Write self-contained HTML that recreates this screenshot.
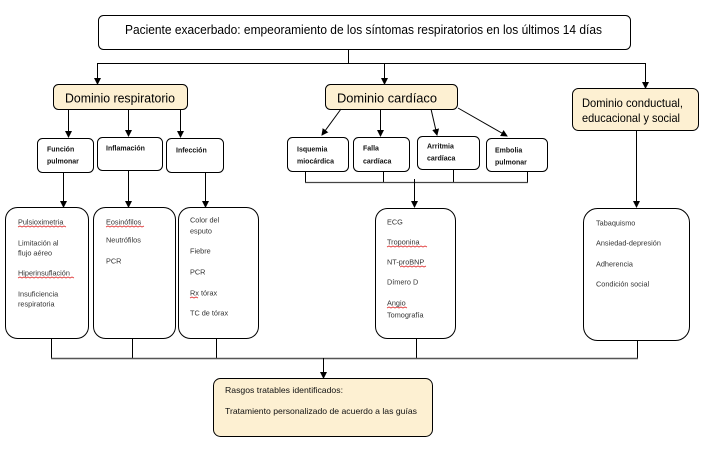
<!DOCTYPE html>
<html><head><meta charset="utf-8"><style>
html,body{margin:0;padding:0;background:#fff;}
svg{display:block;}
text{font-family:"Liberation Sans",sans-serif;}
</style></head><body>
<svg width="705" height="455" viewBox="0 0 705 455" xmlns="http://www.w3.org/2000/svg">
<defs>
<marker id="ar" markerWidth="8" markerHeight="8" refX="6" refY="3.5" orient="auto" markerUnits="userSpaceOnUse">
<path d="M0,0 L7,3.5 L0,7 Z" fill="#000"/>
</marker>
</defs>
<g fill="none" stroke="#000" stroke-width="1">
<!-- top box -->
<rect x="98.5" y="15.5" width="532" height="34" rx="5" fill="#fff"/>
<!-- top connectors -->
<line x1="348.5" y1="49" x2="348.5" y2="63.5"/>
<line x1="97" y1="63.5" x2="645" y2="63.5"/>
<line x1="97.5" y1="63" x2="97.5" y2="84" marker-end="url(#ar)"/>
<line x1="384.5" y1="63" x2="384.5" y2="84" marker-end="url(#ar)"/>
<line x1="645.5" y1="63" x2="645.5" y2="88" marker-end="url(#ar)"/>
<!-- domain boxes -->
<rect x="53.5" y="84.5" width="134" height="25" rx="5" fill="#fdf0d2"/>
<rect x="325.5" y="84.5" width="132" height="25" rx="5" fill="#fdf0d2"/>
<rect x="572.5" y="88.5" width="126" height="42" rx="6" fill="#fdf0d2"/>
<!-- resp arrows -->
<line x1="68.5" y1="109" x2="68.5" y2="137" marker-end="url(#ar)"/>
<line x1="128.5" y1="109" x2="128.5" y2="136" marker-end="url(#ar)"/>
<line x1="180.5" y1="109" x2="180.5" y2="137" marker-end="url(#ar)"/>
<!-- resp sub boxes -->
<rect x="37.5" y="138.5" width="56" height="34" rx="5" fill="#fff"/>
<rect x="97.5" y="137.5" width="65" height="33" rx="5" fill="#fff"/>
<rect x="166.5" y="138.5" width="57" height="34" rx="5" fill="#fff"/>
<!-- cardiac arrows -->
<line x1="341" y1="109" x2="322" y2="135" marker-end="url(#ar)"/>
<line x1="380.5" y1="109" x2="380.5" y2="136" marker-end="url(#ar)"/>
<line x1="431" y1="109" x2="437" y2="135" marker-end="url(#ar)"/>
<line x1="458" y1="108" x2="507" y2="136" marker-end="url(#ar)"/>
<!-- cardiac sub boxes -->
<rect x="287.5" y="137.5" width="61" height="34" rx="5" fill="#fff"/>
<rect x="353.5" y="137.5" width="56" height="34" rx="5" fill="#fff"/>
<rect x="417.5" y="136.5" width="62" height="33" rx="5" fill="#fff"/>
<rect x="486.5" y="138.5" width="61" height="33" rx="5" fill="#fff"/>
<!-- cardiac joins -->
<line x1="305.5" y1="171" x2="305.5" y2="182.5"/>
<line x1="383.5" y1="171" x2="383.5" y2="182.5"/>
<line x1="453.5" y1="169" x2="453.5" y2="182.5"/>
<line x1="527.5" y1="171" x2="527.5" y2="182.5"/>
<line x1="305" y1="182.5" x2="528" y2="182.5" stroke="#444" stroke-width="1.3"/>
<line x1="414.5" y1="179" x2="414.5" y2="207" marker-end="url(#ar)"/>
<!-- list arrows -->
<line x1="63.5" y1="172" x2="63.5" y2="207" marker-end="url(#ar)"/>
<line x1="128.5" y1="170" x2="128.5" y2="207" marker-end="url(#ar)"/>
<line x1="205.5" y1="172" x2="205.5" y2="207" marker-end="url(#ar)"/>
<line x1="636.5" y1="130" x2="636.5" y2="207" marker-end="url(#ar)"/>
<!-- list boxes -->
<rect x="5.5" y="207.5" width="83" height="131" rx="12" fill="#fff"/>
<rect x="93.5" y="207.5" width="82" height="131" rx="12" fill="#fff"/>
<rect x="178.5" y="207.5" width="80" height="131" rx="12" fill="#fff"/>
<rect x="375.5" y="208.5" width="80" height="130" rx="12" fill="#fff"/>
<rect x="583.5" y="208.5" width="106" height="132" rx="14" fill="#fff"/>
<!-- bottom joins -->
<line x1="51.5" y1="338" x2="51.5" y2="358"/>
<line x1="132.5" y1="338" x2="132.5" y2="358"/>
<line x1="216.5" y1="338" x2="216.5" y2="358"/>
<line x1="416.5" y1="338" x2="416.5" y2="358"/>
<line x1="637.5" y1="340" x2="637.5" y2="358"/>
<line x1="51" y1="358.5" x2="638" y2="358.5" stroke="#555" stroke-width="1.5"/>
<line x1="323.5" y1="358" x2="323.5" y2="378" marker-end="url(#ar)"/>
<!-- final box -->
<rect x="213.5" y="378.5" width="219" height="58" rx="7" fill="#fdf0d2"/>
</g>
<!-- red squiggles -->
<g fill="none" stroke="#e03030" stroke-width="0.8">
<polyline points="18,227 20,226 22,227 24,226 26,227 28,226 30,227 32,226 34,227 36,226 38,227 40,226 42,227 44,226 46,227 48,226 50,227 52,226 54,227 56,226 58,227 60,226 62,227 64,226 66,227"/>
<polyline points="18,278 20,277 22,278 24,277 26,278 28,277 30,278 32,277 34,278 36,277 38,278 40,277 42,278 44,277 46,278 48,277 50,278 52,277 54,278 56,277 58,278 60,277 62,278 64,277 66,278 68,277 70,278 72,277 74,278"/>
<polyline points="106,227 108,226 110,227 112,226 114,227 116,226 118,227 120,226 122,227 124,226 126,227 128,226 130,227 132,226 134,227 136,226 138,227 140,226 142,227 144,226"/>
<polyline points="190,298 192,297 194,298 196,297 198,298"/>
<polyline points="387,247 389,246 391,247 393,246 395,247 397,246 399,247 401,246 403,247 405,246 407,247 409,246 411,247 413,246 415,247 417,246 419,247 421,246 423,247 425,246 427,247"/>
<polyline points="400,267 402,266 404,267 406,266 408,267 410,266 412,267 414,266 416,267 418,266 420,267 422,266 424,267 426,266"/>
<polyline points="387,308 389,307 391,308 393,307 395,308 397,307 399,308 401,307 403,308 405,307 407,308"/>
</g>
<!-- texts -->
<g fill="#000">
<text x="125" y="34" font-size="13" textLength="477" lengthAdjust="spacingAndGlyphs">Paciente exacerbado: empeoramiento de los síntomas respiratorios en los últimos 14 días</text>
<text x="65" y="102.5" font-size="13" textLength="110" lengthAdjust="spacingAndGlyphs">Dominio respiratorio</text>
<text x="337" y="102.5" font-size="13" textLength="100" lengthAdjust="spacingAndGlyphs">Dominio cardíaco</text>
<text x="582" y="107" font-size="12" textLength="101" lengthAdjust="spacingAndGlyphs">Dominio conductual,</text>
<text x="582" y="122" font-size="12" textLength="98" lengthAdjust="spacingAndGlyphs">educacional y social</text>
</g>
<g fill="#111" font-size="7" font-weight="bold">
<text x="47" y="151.5">Función</text>
<text x="47" y="163.5">pulmonar</text>
<text x="106" y="150.5">Inflamación</text>
<text x="176" y="152.5">Infección</text>
<text x="297" y="151.5">Isquemia</text>
<text x="297" y="163.5">miocárdica</text>
<text x="363" y="150.5">Falla</text>
<text x="363" y="163.5">cardíaca</text>
<text x="427" y="148.5">Arritmia</text>
<text x="427" y="160.5">cardíaca</text>
<text x="495" y="152.5">Embolia</text>
<text x="495" y="164.5">pulmonar</text>
</g>
<g fill="#333" font-size="7.3">
<text x="18" y="224.5">Pulsioximetria</text>
<text x="18" y="245.5">Limitación al</text>
<text x="18" y="255.5">flujo aéreo</text>
<text x="18" y="275.5">Hiperinsuflación</text>
<text x="18" y="296.5">Insuficiencia</text>
<text x="18" y="306.5">respiratoria</text>
<text x="106" y="224.5">Eosinófilos</text>
<text x="106" y="242.5">Neutrófilos</text>
<text x="106" y="263.5">PCR</text>
<text x="190" y="222.5">Color del</text>
<text x="190" y="233.5">esputo</text>
<text x="190" y="253.5">Fiebre</text>
<text x="190" y="274.5">PCR</text>
<text x="190" y="295.5">Rx tórax</text>
<text x="190" y="315.5">TC de tórax</text>
<text x="387" y="224.5">ECG</text>
<text x="387" y="244.5">Troponina</text>
<text x="387" y="264.5">NT-proBNP</text>
<text x="387" y="284.5">Dímero D</text>
<text x="387" y="305.5">Angio</text>
<text x="387" y="317.5">Tomografía</text>
<text x="596" y="225.5">Tabaquismo</text>
<text x="596" y="245.5">Ansiedad-depresión</text>
<text x="596" y="266.5">Adherencia</text>
<text x="596" y="286.5">Condición social</text>
</g>
<g fill="#111" font-size="8.5">
<text x="225" y="393" textLength="118" lengthAdjust="spacingAndGlyphs">Rasgos tratables identificados:</text>
<text x="225" y="414" textLength="192" lengthAdjust="spacingAndGlyphs">Tratamiento personalizado de acuerdo a las guías</text>
</g>
</svg>
</body></html>
